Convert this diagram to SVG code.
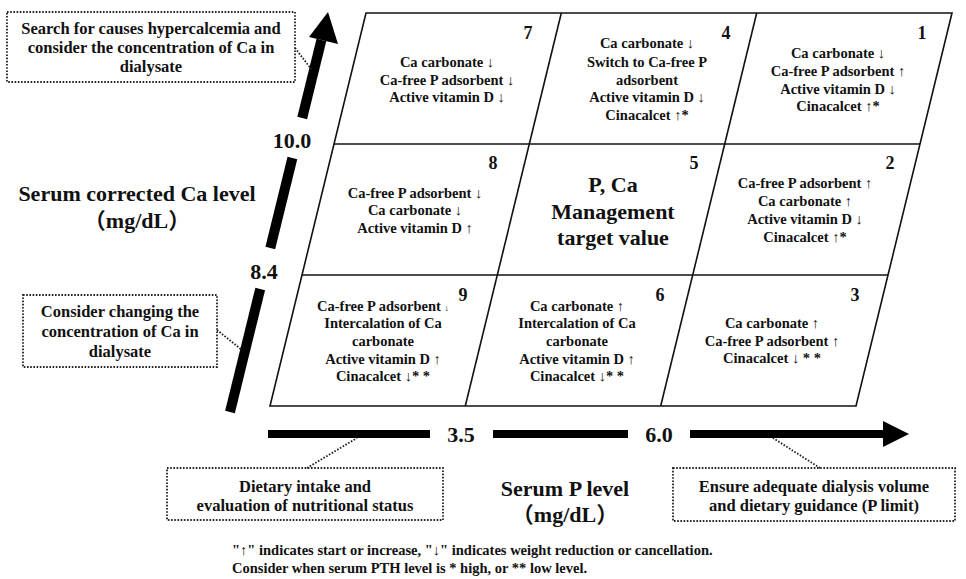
<svg xmlns="http://www.w3.org/2000/svg" width="966" height="579" viewBox="0 0 966 579">
<style>
text{font-family:"Liberation Serif","Times New Roman","Noto Sans CJK JP",serif;font-weight:bold;fill:#111;}
.c{font-size:14.5px;text-anchor:middle;}
.n{font-size:18px;text-anchor:middle;}
.big{font-size:22px;text-anchor:middle;}
.co{font-size:16.5px;text-anchor:middle;}
.grid{stroke:#111;stroke-width:1.6;fill:none;}
.box{fill:none;stroke:#222;stroke-width:1.8;stroke-dasharray:1.6 1.6;}
.lead{fill:none;stroke:#222;stroke-width:1.8;stroke-dasharray:1.6 1.6;}
.shaft{stroke:#000;stroke-width:10;stroke-linecap:butt;}
.hshaft{stroke:#000;stroke-width:8;stroke-linecap:butt;}
</style>
<rect width="966" height="579" fill="#fff"/>
<g id="grid">
<polygon class="grid" points="366,13 952,13 856,406 270,406"/>
<line class="grid" x1="334" y1="144" x2="920" y2="144"/>
<line class="grid" x1="302" y1="275" x2="888" y2="275"/>
<line class="grid" x1="561.3" y1="13" x2="465.3" y2="406"/>
<line class="grid" x1="756.7" y1="13" x2="660.7" y2="406"/>
</g>
<g id="cell7">
<text class="n" x="528" y="39">7</text>
<text class="c" x="447" y="67">Ca carbonate ↓</text>
<text class="c" x="447" y="85">Ca-free P adsorbent ↓</text>
<text class="c" x="447" y="102">Active vitamin D ↓</text>
</g>
<g id="cell4">
<text class="n" x="726" y="39">4</text>
<text class="c" x="647" y="48">Ca carbonate ↓</text>
<text class="c" x="647" y="67">Switch to Ca-free P</text>
<text class="c" x="647" y="85">adsorbent</text>
<text class="c" x="647" y="102">Active vitamin D ↓</text>
<text class="c" x="647" y="120">Cinacalcet ↑*</text>
</g>
<g id="cell1">
<text class="n" x="922" y="39">1</text>
<text class="c" x="838" y="58">Ca carbonate ↓</text>
<text class="c" x="838" y="76">Ca-free P adsorbent ↑</text>
<text class="c" x="838" y="94">Active vitamin D ↓</text>
<text class="c" x="838" y="111">Cinacalcet ↑*</text>
</g>
<g id="cell8">
<text class="n" x="493" y="169">8</text>
<text class="c" x="415" y="198">Ca-free P adsorbent ↓</text>
<text class="c" x="415" y="215">Ca carbonate ↓</text>
<text class="c" x="415" y="233">Active vitamin D ↑</text>
</g>
<g id="cell5">
<text class="n" x="694" y="169">5</text>
<text class="big" x="613" y="192">P, Ca</text>
<text class="big" x="613" y="219">Management</text>
<text class="big" x="613" y="245">target value</text>
</g>
<g id="cell2">
<text class="n" x="890" y="169">2</text>
<text class="c" x="805" y="188">Ca-free P adsorbent ↑</text>
<text class="c" x="805" y="206">Ca carbonate ↑</text>
<text class="c" x="805" y="224">Active vitamin D ↓</text>
<text class="c" x="805" y="242">Cinacalcet ↑*</text>
</g>
<g id="cell9">
<text class="n" x="463" y="301">9</text>
<text class="c" x="383" y="311">Ca-free P adsorbent <tspan font-size="9">↓</tspan></text>
<text class="c" x="383" y="328">Intercalation of Ca</text>
<text class="c" x="383" y="346">carbonate</text>
<text class="c" x="383" y="364">Active vitamin D ↑</text>
<text class="c" x="383" y="381">Cinacalcet ↓* *</text>
</g>
<g id="cell6">
<text class="n" x="660" y="301">6</text>
<text class="c" x="577" y="311">Ca carbonate ↑</text>
<text class="c" x="577" y="328">Intercalation of Ca</text>
<text class="c" x="577" y="346">carbonate</text>
<text class="c" x="577" y="364">Active vitamin D ↑</text>
<text class="c" x="577" y="381">Cinacalcet ↓* *</text>
</g>
<g id="cell3">
<text class="n" x="855" y="301">3</text>
<text class="c" x="772" y="328">Ca carbonate ↑</text>
<text class="c" x="772" y="346">Ca-free P adsorbent ↑</text>
<text class="c" x="772" y="363">Cinacalcet ↓ * *</text>
</g>
<g id="y-axis">
<line class="shaft" x1="321.4" y1="40" x2="302.2" y2="118"/>
<line class="shaft" x1="292.4" y1="158" x2="270.3" y2="248"/>
<line class="shaft" x1="260.2" y1="289" x2="230" y2="412"/>
<polygon points="328,12 338,44 309,37" fill="#000"/>
<text class="big" x="292" y="148">10.0</text>
<text class="big" x="264" y="279">8.4</text>
<text class="big" x="137" y="201">Serum corrected Ca level</text>
<text class="big" x="137" y="228">（mg/dL）</text>
</g>
<g id="x-axis">
<line class="hshaft" x1="268" y1="434" x2="430" y2="434"/>
<line class="hshaft" x1="493" y1="434" x2="628" y2="434"/>
<line class="hshaft" x1="690" y1="434" x2="884" y2="434"/>
<polygon points="883,421 909,434 883,447" fill="#000"/>
<text class="big" x="461" y="442">3.5</text>
<text class="big" x="659" y="442">6.0</text>
<text class="big" x="565" y="496">Serum P level</text>
<text class="big" x="565" y="522">（mg/dL）</text>
</g>
<g id="callout-high-ca">
<rect class="box" x="7" y="12" width="288" height="70"/>
<text class="co" x="151" y="34">Search for causes hypercalcemia and</text>
<text class="co" x="151" y="53">consider the concentration of Ca in</text>
<text class="co" x="151" y="72">dialysate</text>
</g>
<g id="callout-low-ca">
<rect class="box" x="23" y="295" width="194" height="72"/>
<text class="co" x="120" y="317">Consider changing the</text>
<text class="co" x="120" y="337">concentration of Ca in</text>
<text class="co" x="120" y="357">dialysate</text>
</g>
<g id="callout-low-p">
<rect class="box" x="167" y="468" width="276" height="52"/>
<text class="co" x="305" y="492">Dietary intake and</text>
<text class="co" x="305" y="511">evaluation of nutritional status</text>
</g>
<g id="callout-high-p">
<rect class="box" x="673" y="468" width="282" height="53"/>
<text class="co" x="814" y="492">Ensure adequate dialysis volume</text>
<text class="co" x="814" y="511">and dietary guidance (P limit)</text>
</g>
<g id="connectors">
<line class="lead" x1="295" y1="48" x2="312" y2="70"/>
<line class="lead" x1="217" y1="330" x2="242" y2="350"/>
<line class="lead" x1="307" y1="468" x2="357" y2="438"/>
<line class="lead" x1="820" y1="468" x2="773" y2="438"/>
</g>
<g id="notes">
<text x="232" y="555" font-size="14.5">"↑" indicates start or increase, "↓" indicates weight reduction or cancellation.</text>
<text x="232" y="573" font-size="14.5">Consider when serum PTH level is * high, or ** low level.</text>
</g>
</svg>
